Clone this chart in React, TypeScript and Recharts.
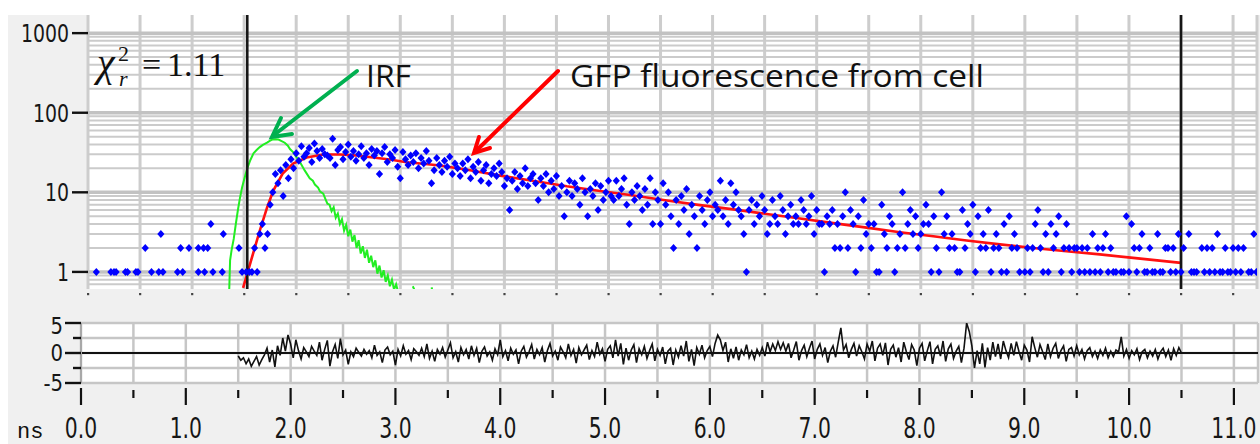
import React from 'react';
import {
  ComposedChart,
  LineChart,
  Line,
  Scatter,
  XAxis,
  YAxis,
  CartesianGrid,
  ReferenceLine,
} from 'recharts';

// ---------------- data ----------------
const T_MAX = 11.23;
const halfTicks = [0, 0.5, 1, 1.5, 2, 2.5, 3, 3.5, 4, 4.5, 5, 5.5, 6, 6.5, 7, 7.5, 8, 8.5, 9, 9.5, 10, 10.5, 11];
const decadeTicks = [1, 10, 100, 1000];
const minorValues = [0.7, 0.8, 0.9, 2, 3, 4, 5, 6, 7, 8, 9, 20, 30, 40, 50, 60, 70, 80, 90, 200, 300, 400, 500, 600, 700, 800, 900];
const residTicks = [5, 2.5, 0, -2.5, -5];
const residLabels = [5, 0, -5];
const windowStart = 1.53;
const windowEnd = 10.5;

// photon counts before the rise: [time ns, counts]
const preCounts: [number, number][] = [
  [0.08, 1], [0.22, 1], [0.25, 1], [0.27, 1], [0.36, 1], [0.38, 1], [0.46, 1], [0.48, 1],
  [0.55, 2], [0.61, 1], [0.68, 1], [0.7, 3], [0.72, 1], [0.86, 1], [0.89, 2], [0.91, 1],
  [0.97, 2], [1.06, 1], [1.06, 2], [1.11, 2], [1.12, 1], [1.15, 2], [1.18, 4], [1.2, 1],
  [1.29, 1], [1.3, 3], [1.45, 2], [1.48, 1], [1.52, 1],
];

// photon counts per channel from 1.55 ns, channel width 0.025 ns
const decayStart = 1.55;
const channelWidth = 0.025;
const decayCounts = [
  1, 1, 2, 1, 3, 4, 2, 3, 7, 10,
  17, 13, 19, 9, 22, 15, 26, 20, 31, 25,
  38, 28, 31, 36, 24, 41, 33, 27, 35, 30,
  29, 27, 47, 22, 34, 37, 26, 32, 40, 28,
  33, 25, 30, 38, 27, 31, 22, 35, 29, 33,
  17, 31, 37, 24, 30, 27, 34, 21, 15, 32,
  26, 22, 29, 24, 31, 20, 27, 23, 33, 25,
  13, 19, 27, 22, 18, 25, 21, 28, 17, 23,
  20, 16, 23, 19, 26, 15, 21, 18, 24, 14,
  19, 22, 13, 17, 20, 16, 23, 18, 12, 15,
  6, 14, 18, 11, 16, 13, 20, 12, 15, 17,
  13, 8, 15, 12, 17, 10, 14, 11, 16, 9,
  12, 5, 10, 14, 9, 13, 11, 7, 15, 10,
  5, 11, 9, 13, 6, 12, 8, 10, 14, 9,
  8, 14, 9, 11, 15, 7, 4, 10, 8, 12,
  9, 6, 11, 7, 15, 4, 10, 8, 4, 13,
  7, 10, 5, 2, 8, 4, 9, 6, 11, 3,
  7, 5, 2, 9, 6, 4, 8, 10, 5, 7,
  6, 14, 5, 8, 4, 13, 7, 10, 6, 5,
  3, 1, 6, 8, 4, 7, 5, 9, 6, 3,
  4, 8, 5, 4, 9, 6, 3, 5, 7, 4,
  5, 4, 8, 6, 4, 5, 9, 3, 6, 4,
  4, 1, 5, 4, 6, 2, 4, 2, 5, 10,
  2, 6, 4, 1, 5, 2, 8, 3, 4, 2,
  4, 1, 1, 7, 3, 2, 5, 4, 1, 2,
  3, 10, 2, 4, 6, 3, 5, 2, 3, 4,
  7, 4, 1, 5, 2, 1, 10, 3, 5, 2,
  3, 2, 1, 1, 6, 2, 4, 3, 7, 1,
  5, 2, 3, 2, 6, 1, 2, 3, 2, 1,
  4, 1, 5, 2, 3, 2, 1, 0, 1, 2,
  1, 2, 4, 6, 2, 1, 3, 1, 4, 2,
  3, 5, 1, 2, 4, 2, 1, 2, 2, 1,
  2, 1, 2, 1, 3, 1, 2, 1, 2, 3,
  1, 2, 1, 1, 0, 1, 1, 5, 1, 4,
  2, 1, 2, 3, 1, 1, 2, 1, 1, 3,
  1, 1, 2, 2, 1, 2, 1, 3, 1, 2,
  0, 3, 1, 1, 1, 0, 2, 1, 2, 1,
  2, 1, 3, 1, 1, 2, 1, 1, 2, 1,
  2, 1, 2, 0, 1, 1, 3, 1,
];

// instrument response function: [time ns, counts]
const irfPoints: [number, number | null][] = [
  [1.355, 0.5], [1.365, 1.4], [1.38, 1.9], [1.4, 2.6], [1.42, 4.0], [1.44, 6.0], [1.46, 8.5],
  [1.48, 11.5], [1.5, 14.5], [1.53, 20], [1.56, 25.5], [1.59, 31], [1.62, 34], [1.65, 37],
  [1.68, 39.5], [1.72, 42], [1.75, 44.5], [1.77, 46], [1.8, 46.5], [1.83, 46], [1.86, 44],
  [1.89, 42], [1.92, 38.5], [1.94, 35], [1.97, 32], [2.0, 28], [2.04, 23.5], [2.08, 19],
  [2.13, 15], [2.16, 14], [2.18, 12.5], [2.21, 11.5], [2.23, 10.2], [2.26, 9.6], [2.28, 8.3],
  [2.3, 7.2], [2.32, 7.0], [2.34, 5.8], [2.36, 6.5], [2.38, 4.8], [2.4, 5.4], [2.42, 4.0],
  [2.44, 4.6], [2.46, 3.3], [2.48, 3.9], [2.5, 2.8], [2.52, 3.4], [2.54, 2.4], [2.56, 2.9],
  [2.58, 2.0], [2.6, 2.5], [2.62, 1.7], [2.64, 2.1], [2.66, 1.5], [2.68, 1.9], [2.7, 1.3],
  [2.72, 1.6], [2.74, 1.15], [2.76, 1.4], [2.78, 0.95], [2.8, 1.2], [2.82, 0.85], [2.84, 1.05],
  [2.86, 0.75], [2.88, 0.9], [2.9, 0.66], [2.92, 0.8], [2.94, 0.6], [2.96, 0.7], [2.98, 0.55],
  [3.0, null], [3.12, 0.66], [3.14, 0.58], [3.16, null], [3.3, 0.64], [3.31, 0.58],
];

// fitted decay model: [time ns, counts]
const fitPoints: [number, number][] = [
  [1.49, 0.63], [1.53, 0.95], [1.585, 1.69], [1.65, 3.29], [1.72, 6.41], [1.78, 10.5],
  [1.87, 17.2], [1.97, 23], [2.1, 27.4], [2.26, 29.9], [2.42, 29.9], [2.58, 29.0], [2.74, 27.4],
  [2.9, 25.8], [3.06, 23.9], [3.22, 22.9], [3.38, 21.7], [3.67, 18.9], [3.96, 16.2], [4.27, 14.0],
  [4.6, 11.9], [4.92, 10.4], [5.24, 9.1], [5.56, 7.9], [5.88, 6.9], [6.2, 6.1], [6.52, 5.35],
  [6.84, 4.7], [7.16, 4.1], [7.48, 3.6], [7.8, 3.15], [8.12, 2.8], [8.44, 2.48], [8.76, 2.22],
  [9.08, 2.0], [9.4, 1.82], [9.72, 1.66], [10.04, 1.5], [10.5, 1.3],
];

// weighted residuals per channel from 1.5 ns to 10.5 ns, channel width 0.025 ns
const residStart = 1.5;
const residuals = [
  -0.5, -1.2, -0.8, -1.8, -1.0, -2.2, -1.4, -0.6, -2.0, -1.1,
  -0.3, 0.8, -1.5, 0.5, -2.3, 1.2, -0.4, 2.5, 0.3, 3.0,
  1.5, -0.8, 2.2, 0.4, -1.0, 0.9, 0.2, -0.6, 1.1, 0.3,
  -0.4, 1.8, -1.2, 0.6, 2.1, -2.2, 0.2, 1.4, -0.9, 2.4,
  -0.3, 0.5, -1.9, 0.2, -0.6, 0.8, 0.1, -0.5, 0.6, -0.2,
  0.4, -0.8, 1.3, -0.4, 0.2, -1.6, 0.5, 1.0, -0.3, 0.3,
  -2.0, 0.6, -0.5, 1.2, -0.2, 0.4, -1.1, 0.7, 0.2, -0.4,
  0.8, -0.6, 1.5, -0.9, 0.3, -1.4, 0.6, -0.2, 0.9, -0.7,
  0.5, 1.7, -0.8, 0.2, -1.5, 0.9, -0.3, 0.6, -1.0, 1.2,
  -0.4, 0.8, -1.6, 0.3, 1.0, -0.5, 0.2, -1.2, 0.7, -0.3,
  2.2, -0.6, 0.4, -1.3, 0.8, -0.2, 0.5, -1.8, 0.3, 1.1,
  -0.7, 0.2, 1.4, -1.0, 0.6, -0.3, 0.9, -1.5, 0.4, 1.6,
  -0.5, 0.3, -1.2, 1.0, 0.2, -0.8, 1.5, -0.4, 0.6, -1.7,
  0.9, -0.3, 0.5, 1.3, -1.1, 0.4, -0.6, 1.8, -0.2, 0.7,
  -1.4, 0.6, 1.2, -0.8, 2.2, -0.5, 1.6, -1.9, 0.8, -1.2,
  0.5, 1.4, -1.6, 0.7, -0.3, 1.1, -0.9, 0.4, 1.5, -1.3,
  0.6, -0.4, 1.0, -1.8, 0.3, 0.8, -2.0, 0.5, -0.7, 1.2,
  -0.5, 2.0, -1.4, 0.6, -2.1, 0.9, -0.2, 1.3, -0.8, 0.4,
  1.1, -0.6, 1.6, 3.0, 2.2, 0.4, 1.8, -1.5, 0.7, -0.9,
  1.0, -1.2, 0.5, -0.3, 1.4, -0.8, 0.3, -1.0, 0.6, -0.4,
  0.9, -0.5, 1.8, 0.2, 1.5, 0.4, 1.9, 0.6, 1.7, 0.3,
  1.6, -0.8, 0.5, 1.9, -1.2, 0.4, 1.3, -0.6, 0.8, 2.0,
  -1.0, 0.6, 1.5, -0.4, 0.9, -1.6, 0.3, 1.2, -0.7, 1.8,
  4.2, 0.5, 1.4, -0.8, 0.6, 1.6, -0.5, 1.2, 0.2, -1.0,
  1.5, 0.3, 2.0, -1.3, 0.8, 1.5, -0.4, 1.7, -2.0, 0.6,
  1.3, -0.7, 0.9, -1.5, 1.8, 0.2, -1.1, 1.4, 0.5, -2.1,
  0.8, 1.6, -1.3, 0.4, 1.9, -1.8, 0.6, 1.2, -0.5, 2.0,
  -1.4, 0.7, 1.5, -0.9, 0.3, 1.1, -1.6, 0.8, 5.0, 3.6,
  1.2, -2.5, 0.4, -1.8, 1.6, -2.4, 0.9, -1.2, 1.8, -0.6,
  1.5, -1.0, 2.0, 0.4, -0.8, 1.6, -0.4, 1.9, 0.2, -1.2,
  1.3, 0.5, -1.5, 2.7, 0.9, -0.7, 1.4, 0.2, -1.1, 1.5,
  -0.6, 0.8, 1.6, -0.9, 0.4, 1.2, -1.4, 0.6, 0.9, -0.5,
  1.2, -0.3, 0.6, -1.0, 0.4, 0.9, -0.6, 0.3, -0.9, 0.5,
  -0.4, 0.8, -0.8, 0.3, -0.6, 0.5, 0.2, 2.7, -0.5, 0.6,
  -0.9, 0.4, -0.3, 0.7, -1.1, 0.2, 0.6, -0.8, 0.3, -0.5,
  0.6, -1.0, 0.2, 0.8, -0.6, 0.5, -1.2, 0.7, -0.4, 0.9,
  0.0,
];

// ---------------- derived tables ----------------
const scatterData = [
  ...preCounts.map(([t, v]) => ({ t, v })),
  ...decayCounts.map((v, i) => ({ t: decayStart + i * channelWidth, v })),
].filter((d) => d.v > 0);
const irfData = irfPoints.map(([t, v]) => ({ t, v }));
const fitData = fitPoints.map(([t, v]) => ({ t, v }));
const residData = residuals.map((v, i) => ({ t: residStart + i * channelWidth, v }));

// ---------------- styles ----------------
const AXIS_FONT = "'DejaVu Sans Condensed', 'DejaVu Sans', sans-serif";
const TEXT_COLOR = '#161616';

const Diamond = (props: any) => {
  const { cx, cy } = props;
  if (cx == null || cy == null) return null;
  return (
    <polygon
      points={`${cx},${cy - 4} ${cx + 3.6},${cy} ${cx},${cy + 4} ${cx - 3.6},${cy}`}
      fill="#0000ff"
    />
  );
};

const TopXTick = (props: any) => {
  const { x, y } = props;
  return <rect x={x - 1} y={y + 4} width={2.2} height={2.2} fill="#444" />;
};

const TopYTick = (props: any) => {
  const { x, y, payload } = props;
  return (
    <g>
      <line x1={x - 16} x2={x} y1={y} y2={y} stroke="#111" strokeWidth={2.4} />
      <text
        transform={`translate(${x - 19},${y}) scale(0.84,1)`}
        dy="0.36em"
        textAnchor="end"
        fontSize={25}
        fontFamily={AXIS_FONT}
        fill={TEXT_COLOR}
      >
        {payload.value}
      </text>
    </g>
  );
};

const BottomYTick = (props: any) => {
  const { x, y, payload } = props;
  const v = payload.value;
  const major = residLabels.includes(v);
  return (
    <g>
      <line x1={x - (major ? 16 : 8)} x2={x} y1={y} y2={y} stroke="#111" strokeWidth={2.4} />
      {major && (
        <text
          transform={`translate(${x - 18},${y + (v === 5 ? 3 : 0)}) scale(0.95,1)`}
          dy="0.36em"
          textAnchor="end"
          fontSize={23}
          fontFamily={AXIS_FONT}
          fill={TEXT_COLOR}
        >
          {v}
        </text>
      )}
    </g>
  );
};

const BottomXTick = (props: any) => {
  const { x, y, payload } = props;
  const v = payload.value as number;
  const major = Math.abs(v - Math.round(v)) < 1e-6;
  return (
    <g>
      <line
        x1={x}
        x2={x}
        y1={y + (major ? 5 : 7)}
        y2={y + (major ? 22 : 15)}
        stroke="#111"
        strokeWidth={2.2}
      />
      {major && (
        <text
          transform={`translate(${x},${y + 55}) scale(0.78,1)`}
          textAnchor="middle"
          fontSize={29}
          fontFamily={AXIS_FONT}
          fill={TEXT_COLOR}
        >
          {v.toFixed(1)}
        </text>
      )}
    </g>
  );
};

export default function App() {
  return (
    <div style={{ position: 'absolute', left: 0, top: 0, width: 1260, height: 444, background: '#ffffff', overflow: 'hidden' }}>
      <div style={{ position: 'absolute', left: 8, top: 15, width: 1252, height: 429, background: '#f0f0f0' }} />

      <div style={{ position: 'absolute', left: 0, top: 0 }}>
        <ComposedChart width={1260} height={300} margin={{ top: 15, right: 3, left: 8, bottom: 0 }}>
          <CartesianGrid fill="#ffffff" horizontal={false} stroke="#cdcdcd" strokeWidth={3} />
          <CartesianGrid vertical={false} horizontalValues={minorValues} stroke="#cbcbcb" strokeWidth={2} />
          <CartesianGrid vertical={false} horizontalValues={decadeTicks} stroke="#c2c2c2" strokeWidth={3.5} />
          <XAxis
            type="number"
            dataKey="t"
            domain={[0, T_MAX]}
            ticks={halfTicks}
            interval={0}
            allowDataOverflow
            height={11}
            axisLine={false}
            tickLine={false}
            tickSize={0}
            tickMargin={0}
            tick={TopXTick}
          />
          <YAxis
            type="number"
            dataKey="v"
            scale="log"
            domain={[0.61, 1690]}
            ticks={decadeTicks}
            interval={0}
            allowDataOverflow
            width={80}
            axisLine={false}
            tickLine={false}
            tickSize={0}
            tickMargin={0}
            tick={TopYTick}
          />
          <Scatter data={scatterData} dataKey="v" shape={Diamond} fill="#0000ff" isAnimationActive={false} />
          <Line data={irfData} dataKey="v" type="linear" stroke="#22ee22" strokeWidth={2} dot={false} isAnimationActive={false} />
          <Line data={fitData} dataKey="v" type="linear" stroke="#ff1010" strokeWidth={2.6} dot={false} isAnimationActive={false} />
          <ReferenceLine x={windowStart} stroke="#161616" strokeWidth={2.6} />
          <ReferenceLine x={windowEnd} stroke="#161616" strokeWidth={2.6} />
        </ComposedChart>
      </div>

      <div style={{ position: 'absolute', left: 0, top: 300 }}>
        <LineChart width={1260} height={144} margin={{ top: 23, right: 2, left: 8, bottom: 0 }}>
          <CartesianGrid fill="#ffffff" stroke="#c6c6c6" strokeWidth={2.5} />
          <XAxis
            type="number"
            dataKey="t"
            domain={[0, T_MAX]}
            ticks={halfTicks}
            interval={0}
            allowDataOverflow
            height={61}
            axisLine={false}
            tickLine={false}
            tickSize={0}
            tickMargin={0}
            tick={BottomXTick}
          />
          <YAxis
            type="number"
            dataKey="v"
            domain={[-5, 5]}
            ticks={residTicks}
            interval={0}
            allowDataOverflow
            width={73}
            axisLine={{ stroke: '#a8a8a8', strokeWidth: 2 }}
            tickLine={false}
            tickSize={0}
            tickMargin={0}
            tick={BottomYTick}
          />
          <ReferenceLine y={0} stroke="#111" strokeWidth={2} />
          <Line data={residData} dataKey="v" type="linear" stroke="#111" strokeWidth={1.6} dot={false} isAnimationActive={false} />
        </LineChart>
      </div>

      <svg width={1260} height={444} style={{ position: 'absolute', left: 0, top: 0, pointerEvents: 'none' }}>
        <text x={97} y={76} fontFamily="'Liberation Serif', 'DejaVu Serif', serif" fontStyle="italic" fontSize={40} fill="#111">χ</text>
        <text x={119} y={86} fontFamily="'Liberation Serif', 'DejaVu Serif', serif" fontStyle="italic" fontSize={22} fill="#111">r</text>
        <text x={118} y={61} fontFamily="'Liberation Serif', 'DejaVu Serif', serif" fontSize={22} fill="#111">2</text>
        <text x={142} y={76} fontFamily="'Liberation Serif', 'DejaVu Serif', serif" fontSize={34} fill="#111">=</text>
        <text x={167} y={76} fontFamily="'Liberation Serif', 'DejaVu Serif', serif" fontSize={34} fill="#111">1.11</text>

        <text x={366} y={87} fontFamily="'Open Sans', 'Liberation Sans', sans-serif" fontSize={31} fill="#111" textLength={45} lengthAdjust="spacingAndGlyphs">IRF</text>
        <text x={570} y={87} fontFamily="'Open Sans', 'Liberation Sans', sans-serif" fontSize={31} fill="#111" textLength={414} lengthAdjust="spacingAndGlyphs">GFP fluorescence from cell</text>

        <line x1={357} y1={71} x2={274} y2={135} stroke="#00b050" strokeWidth={4} strokeLinecap="round" />
        <polyline points="281,118 272,137 292,134" fill="none" stroke="#00b050" strokeWidth={4} strokeLinecap="round" strokeLinejoin="miter" />

        <line x1={558} y1={71} x2={476} y2={151} stroke="#ff0000" strokeWidth={4} strokeLinecap="round" />
        <polyline points="479,137 474,153 490,148" fill="none" stroke="#ff0000" strokeWidth={4} strokeLinecap="round" strokeLinejoin="miter" />

        <text x={17} y={438} fontFamily="'Liberation Mono', 'DejaVu Sans Mono', monospace" fontSize={22} fill="#111">ns</text>
      </svg>
    </div>
  );
}
